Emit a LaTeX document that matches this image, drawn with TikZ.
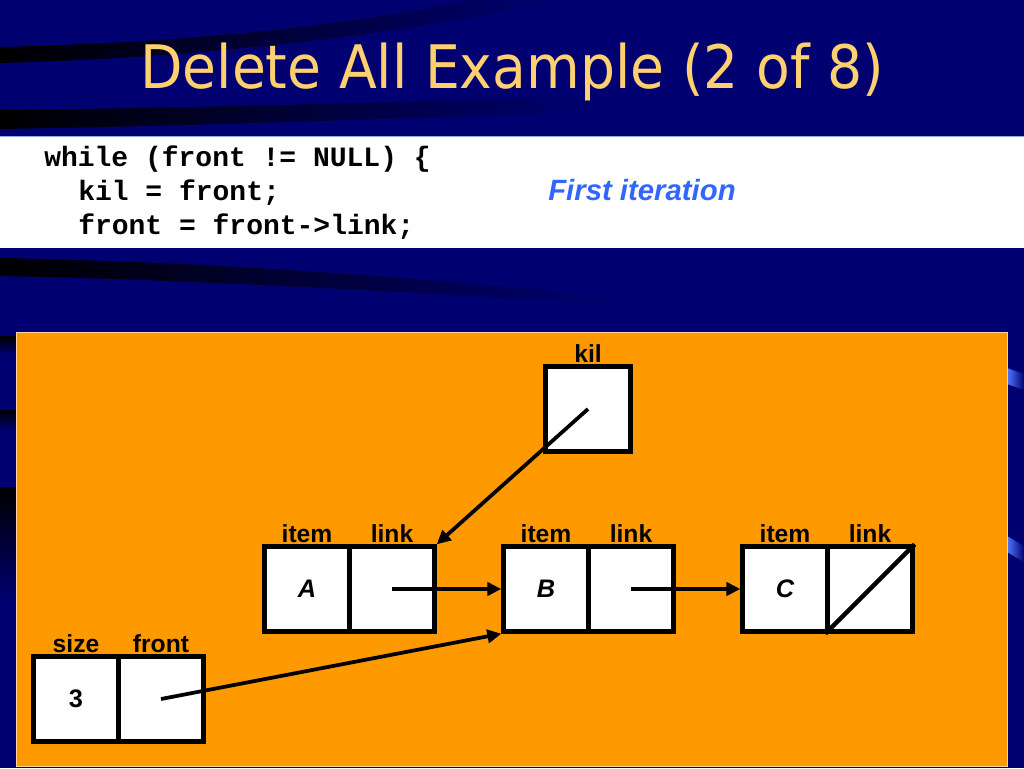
\documentclass[tikz,border=0pt]{standalone}
\usepackage{fontspec}
\setmainfont{Liberation Sans}
\setmonofont{Liberation Mono}
\newfontfamily\titlefont[FakeStretch=0.92]{DejaVu Sans}
\usetikzlibrary{arrows.meta}
\definecolor{bg}{RGB}{0,0,112}
\definecolor{titlecol}{RGB}{255,208,112}
\definecolor{itercol}{RGB}{51,102,255}
\definecolor{orng}{RGB}{255,153,0}
\definecolor{hilite}{RGB}{80,120,255}
\begin{document}
\begin{tikzpicture}[x=0.75pt,y=-0.75pt,
  cell/.style={draw=black, fill=white, line width=3.3pt, minimum width=63.75pt, minimum height=63.75pt, inner sep=0pt, font=\bfseries\fontsize{19}{19}\selectfont},
  lbl/.style={anchor=base, inner sep=0pt, font=\bfseries\fontsize{18.5}{18.5}\selectfont},
  ptr/.style={line width=2.8pt, -{Triangle[length=10.5pt,width=10pt]}},
  code/.style={anchor=base west, inner sep=0pt, font=\ttfamily\bfseries\fontsize{21}{21}\selectfont}]
\useasboundingbox (0,0) rectangle (1024,768);
% background
\fill[bg] (0,0) rectangle (1024,768);
\shade[left color=black, right color=bg] (0,47) .. controls (200,42) and (350,25) .. (470,0) -- (560,0) .. controls (400,35) and (200,58) .. (0,63) -- cycle;
\shade[left color=black, right color=bg] (0,110) .. controls (200,108) and (400,102) .. (600,96) -- (600,112) .. controls (400,118) and (200,126) .. (0,129) -- cycle;
\shade[left color=black, right color=bg] (0,258) .. controls (200,262) and (400,275) .. (620,298) -- (620,304) .. controls (400,292) and (200,280) .. (0,276) -- cycle;
\shade[top color=black, bottom color=bg] (0,336) rectangle (17,354);
\shade[top color=black, bottom color=bg] (0,410) rectangle (17,430);
\shade[top color=black, bottom color=bg] (0,487) rectangle (17,600);
\shade[left color=hilite, right color=bg] (1007,368) -- (1024,374) -- (1024,390) -- (1007,384) -- cycle;
\shade[left color=hilite, right color=bg] (1007,536) -- (1024,546) -- (1024,562) -- (1007,552) -- cycle;
% white code band
\fill[white] (0,136) rectangle (1024,248);
\draw[color={rgb,255:red,150;green,170;blue,220}, line width=0.75pt] (0,136) -- (1024,136);
% title
\node[anchor=base, inner sep=0pt, text=titlecol, font=\titlefont\fontsize{45}{45}\selectfont] (title) at (512,88) {Delete All Example (2 of 8)};
% code
\node[code] (c1) at (44,166) {while (front != NULL) \{};
\node[code] (c2) at (78,200) {kil = front;};
\node[code] (c3) at (78,234) {front = front->link;};
\node[anchor=base west, inner sep=0pt, text=itercol, font=\bfseries\itshape\fontsize{22}{22}\selectfont] (iter) at (548,200) {First iteration};
% orange panel
\fill[orng] (16,332) rectangle (1007,766);
\draw[color=orng!40!white, line width=0.75pt] (16,332) rectangle (1007,766);
% cells
\node[cell] (Ai) at (307,589) {\itshape A};
\node[cell] (Al) at (392,589) {};
\node[cell] (Bi) at (546,589) {\itshape B};
\node[cell] (Bl) at (631,589) {};
\node[cell] (Ci) at (785,589) {\itshape C};
\node[cell] (Cl) at (870,589) {};
\node[cell] (sz) at (76,699) {3};
\node[cell] (fr) at (161,699) {};
\node[cell] (kl) at (588,409) {};
% labels
\node[lbl] (lAi) at ([yshift=1.6pt]Ai.north) {item};
\node[lbl] (lAl) at ([yshift=1.6pt]Al.north) {link};
\node[lbl] (lBi) at ([yshift=1.6pt]Bi.north) {item};
\node[lbl] (lBl) at ([yshift=1.6pt]Bl.north) {link};
\node[lbl] (lCi) at ([yshift=1.6pt]Ci.north) {item};
\node[lbl] (lCl) at ([yshift=1.6pt]Cl.north) {link};
\node[lbl] (lsz) at ([yshift=1.6pt]sz.north) {size};
\node[lbl] (lfr) at ([yshift=1.6pt]fr.north) {front};
\node[lbl] (lkl) at ([yshift=1.6pt]kl.north) {kil};
% pointers
\draw[ptr] (kl.center) -- (Al.north east);
\draw[ptr] (Al.center) -- (Bi.west);
\draw[ptr] (Bl.center) -- (Ci.west);
\draw[ptr] (fr.center) -- (Bi.south west);
\draw[line width=3.3pt] (Cl.south west) -- (Cl.north east);
\end{tikzpicture}
\end{document}
